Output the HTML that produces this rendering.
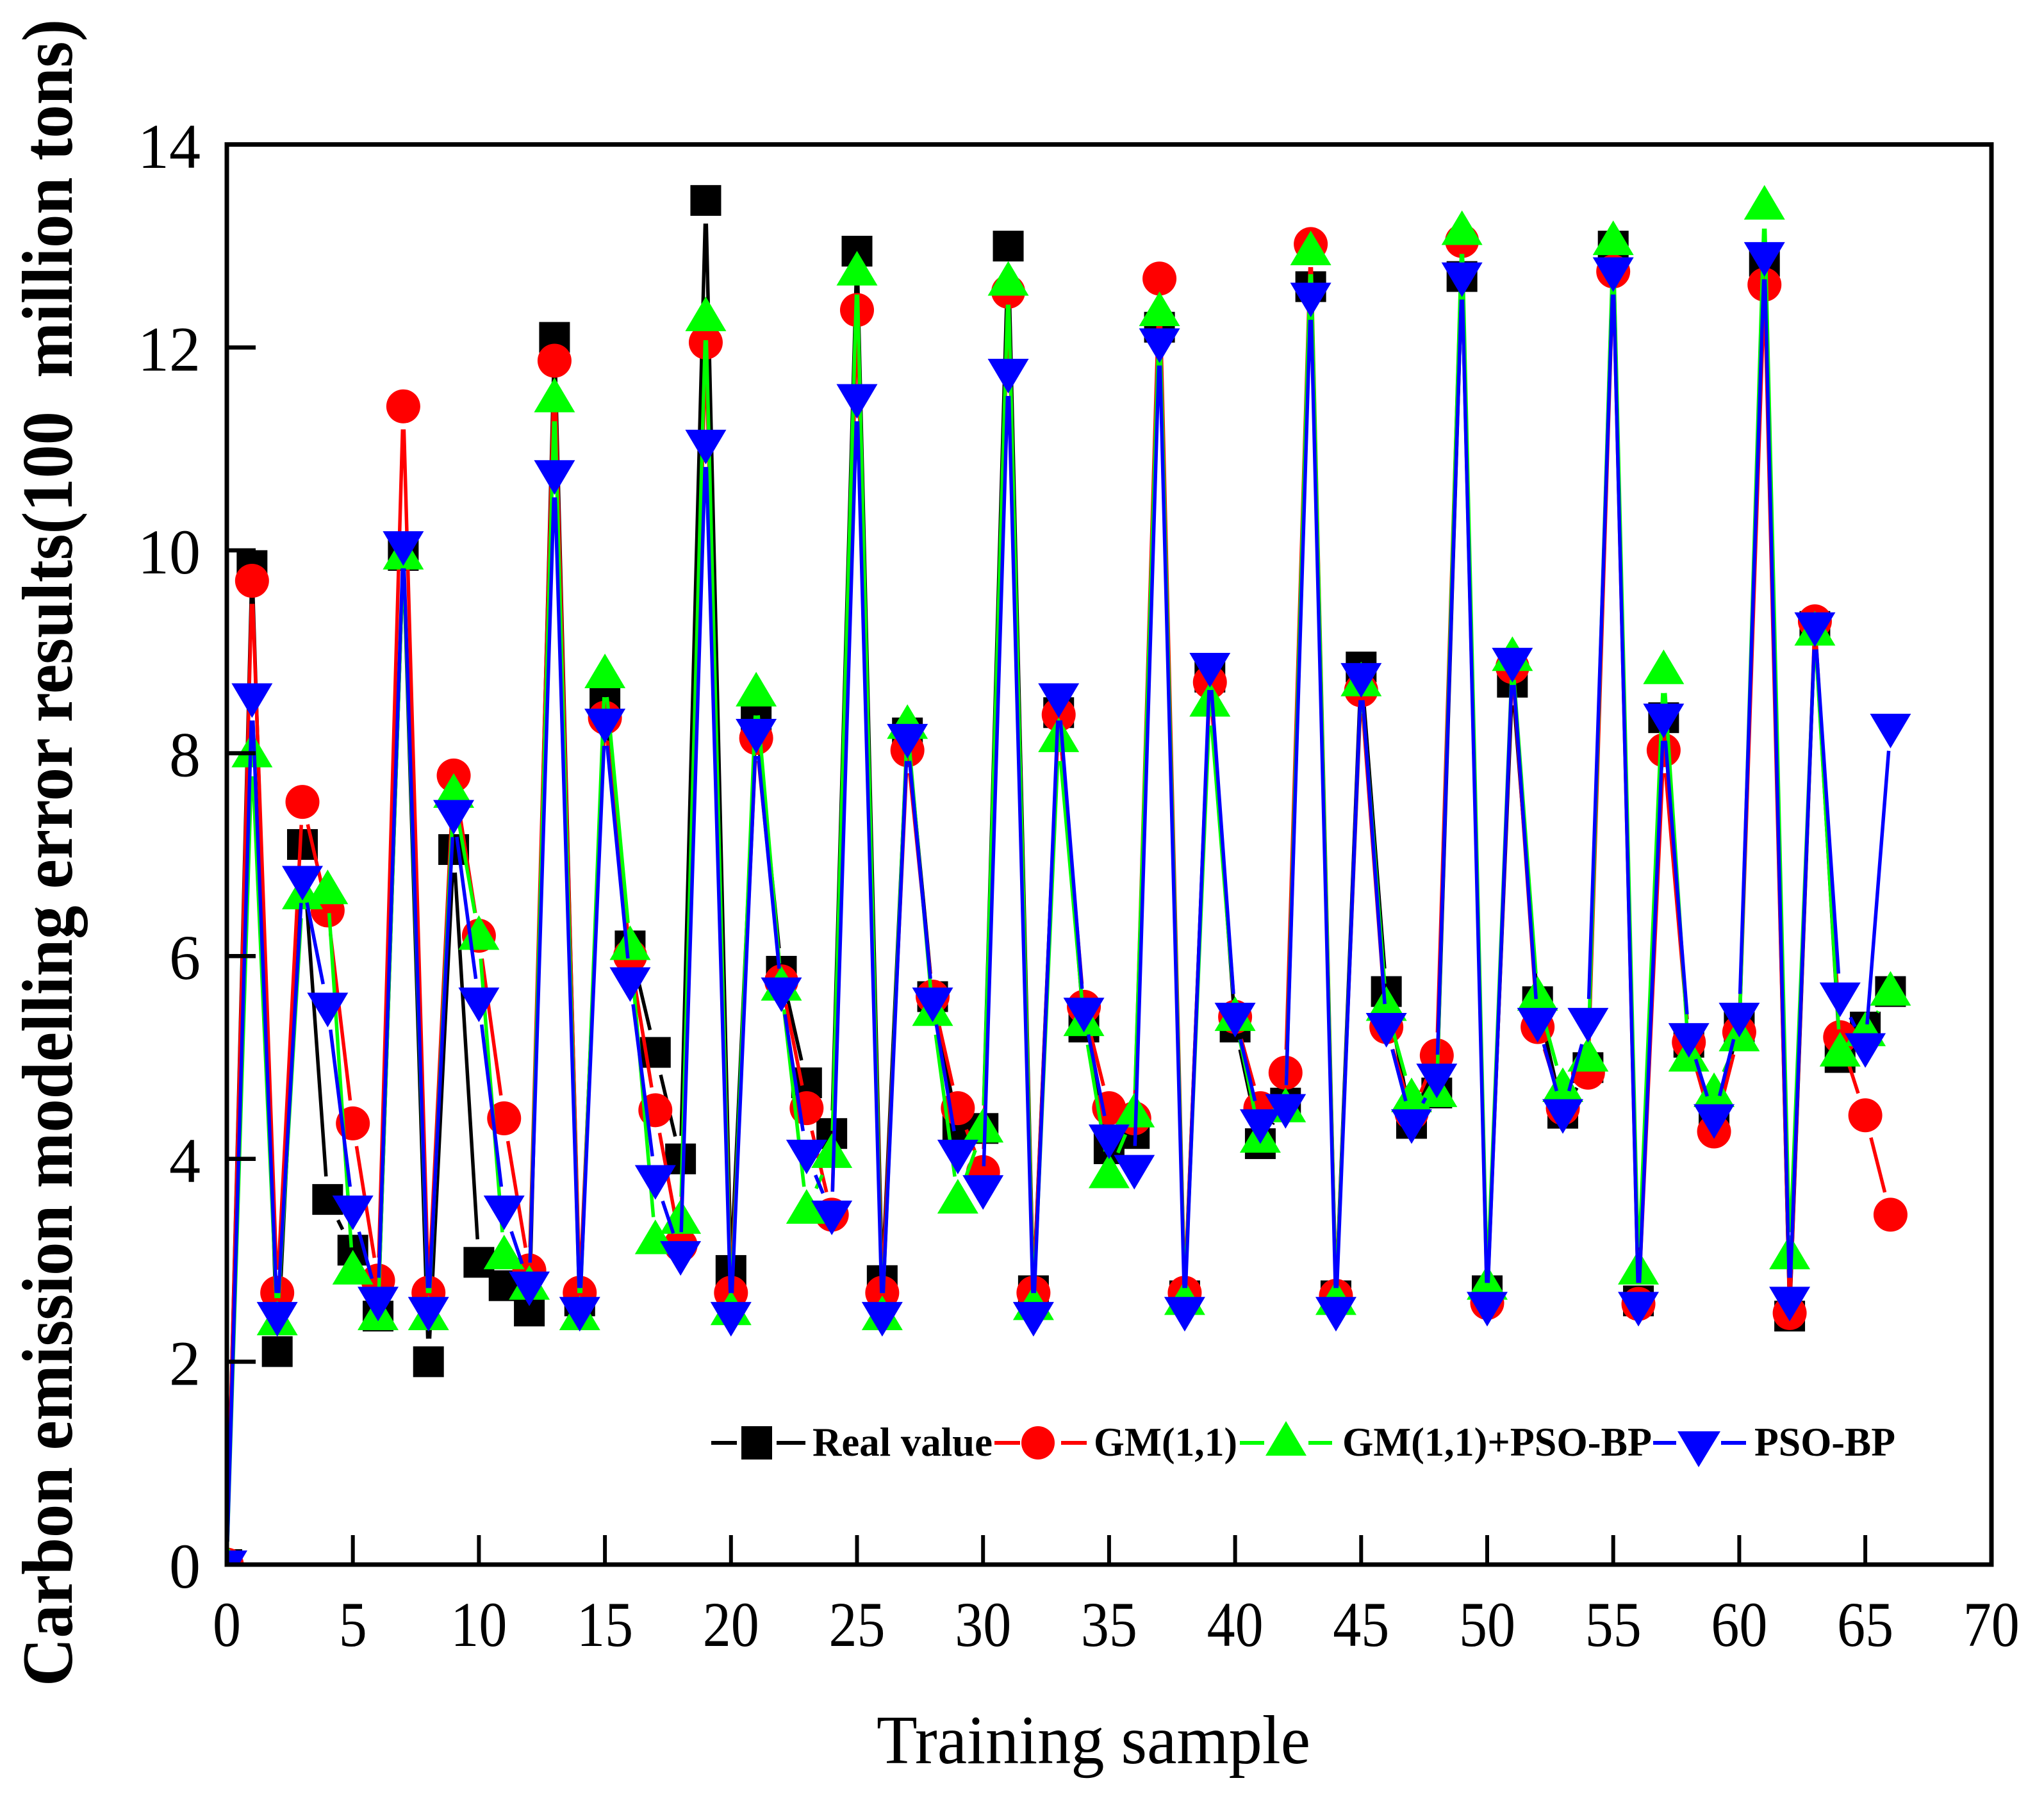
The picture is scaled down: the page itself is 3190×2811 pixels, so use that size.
<!DOCTYPE html>
<html lang="en">
<head>
<meta charset="utf-8">
<title>Carbon emission modelling error results</title>
<style>
html,body{margin:0;padding:0;background:#fff;}
svg{display:block;}
text{font-family:"Liberation Serif",serif;fill:#000;}
</style>
</head>
<body>
<svg id="chart" xmlns="http://www.w3.org/2000/svg" width="3190" height="2811" viewBox="0 0 3190 2811">
  <rect x="0" y="0" width="3190" height="2811" fill="#fff"/>
  <defs>
    <clipPath id="plot-clip"><rect x="354" y="225" width="2754" height="2217"/></clipPath>
  </defs>
  <g id="series-layer" clip-path="url(#plot-clip)"></g>
  <rect x="354" y="225.5" width="2754" height="2216.5" fill="none" stroke="#000" stroke-width="7"/>
  <g id="axis-layer"></g>
  <text transform="translate(112,2632) rotate(-90)" font-size="112" font-weight="bold" textLength="2602" lengthAdjust="spacingAndGlyphs">Carbon emission modelling error results(100&#160;&#160;million tons)</text>
  <text x="1368" y="2752" font-size="108" textLength="677" lengthAdjust="spacingAndGlyphs">Training sample</text>
  <g>
    <g>
      <path d="M1110 2252H1150M1212 2252H1257" stroke="#000" stroke-width="6" fill="none"/>
      <rect x="1157" y="2226" width="48" height="52" fill="#000"/>
      <text x="1268" y="2272" font-size="64" font-weight="bold" textLength="281" lengthAdjust="spacingAndGlyphs">Real value</text>
    </g>
    <g>
      <path d="M1552 2252H1592M1656 2252H1696" stroke="#f00" stroke-width="6" fill="none"/>
      <ellipse cx="1620" cy="2252" rx="26" ry="26" fill="#f00"/>
      <text x="1707" y="2272" font-size="64" font-weight="bold" textLength="224" lengthAdjust="spacingAndGlyphs">GM(1,1)</text>
    </g>
    <g>
      <path d="M1935 2252H1973M2042 2252H2079" stroke="#0f0" stroke-width="6" fill="none"/>
      <polygon points="2007,2218 2039,2272 1975,2272" fill="#0f0"/>
      <text x="2095" y="2272" font-size="64" font-weight="bold" textLength="483" lengthAdjust="spacingAndGlyphs">GM(1,1)+PSO-BP</text>
    </g>
    <g>
      <path d="M2580 2252H2616M2686 2252H2725" stroke="#00f" stroke-width="6" fill="none"/>
      <polygon points="2618,2234 2685,2234 2651,2290" fill="#00f"/>
      <text x="2738" y="2272" font-size="64" font-weight="bold" textLength="220" lengthAdjust="spacingAndGlyphs">PSO-BP</text>
    </g>
  </g>
</svg>
<script>
const xTickLabels = ["0","5","10","15","20","25","30","35","40","45","50","55","60","65","70"];
const yTickLabels = ["0","2","4","6","8","10","12","14"];
const realValue = [0,9.85,2.1,7.1,3.6,3.1,2.45,9.95,2.0,7.05,2.98,2.75,2.5,12.1,2.6,8.5,6.1,5.05,4.0,13.45,2.9,8.35,5.85,4.75,4.25,12.95,2.8,8.2,5.6,4.3,4.3,13.0,2.7,8.4,5.3,4.1,4.25,12.2,2.65,8.75,5.3,4.15,4.55,12.6,2.65,8.85,5.65,4.35,4.65,12.7,2.7,8.7,5.55,4.45,4.9,13.0,2.6,8.35,5.15,4.4,5.3,12.85,2.45,9.25,5.0,5.3,5.65];
const gm11 = [0,9.7,2.68,7.52,6.45,4.35,2.8,11.42,2.68,7.78,6.2,4.4,2.9,11.87,2.68,8.35,6.0,4.48,3.15,12.05,2.68,8.15,5.75,4.5,3.45,12.37,2.68,8.03,5.6,4.5,3.87,12.55,2.68,8.38,5.5,4.5,4.4,12.68,2.68,8.7,5.4,4.5,4.85,13.02,2.65,8.62,5.3,4.45,5.02,13.05,2.58,8.85,5.3,4.5,4.85,12.75,2.57,8.03,5.15,4.27,5.25,12.62,2.48,9.3,5.2,4.43,3.45];
const gm11PsoBp = [0,8.0,2.4,6.6,6.65,2.9,2.45,9.95,2.45,7.6,6.2,3.05,2.75,11.5,2.45,8.78,6.1,3.2,3.4,12.3,2.5,8.6,5.7,3.5,4.05,12.75,2.45,8.28,5.45,3.6,4.3,12.65,2.55,8.15,5.35,3.85,4.45,12.35,2.6,8.5,5.4,4.2,4.5,12.95,2.6,8.7,5.5,4.6,4.65,13.15,2.75,8.95,5.6,4.7,5.0,13.05,2.9,8.82,5.0,4.65,5.2,13.4,3.05,9.2,5.05,5.25,5.65];
const psoBp = [0,8.55,2.45,6.75,5.5,3.5,2.6,10.05,2.5,7.4,5.55,3.5,2.75,10.75,2.5,8.3,5.75,3.8,3.05,11.05,2.45,8.2,5.65,4.05,3.45,11.5,2.45,8.15,5.55,4.05,3.7,11.75,2.45,8.55,5.45,4.2,3.9,12.05,2.5,8.85,5.4,4.35,4.5,12.5,2.5,8.75,5.3,4.35,4.8,12.7,2.55,8.9,5.35,4.45,5.35,12.75,2.55,8.35,5.2,4.4,5.4,12.9,2.6,9.25,5.6,5.1,8.25];

const NS = 'http://www.w3.org/2000/svg';
const xAt = function (v) { return 354 + v * 39.34; };
const yAt = function (v) { return 2442 - v * 158.3; };
const GAP = 36;

function drawMarker(group, shape, px, py, color) {
  let m;
  if (shape === 'square') {
    m = document.createElementNS(NS, 'rect');
    m.setAttribute('x', px - 24);
    m.setAttribute('y', py - 24);
    m.setAttribute('width', 48);
    m.setAttribute('height', 48);
  } else if (shape === 'circle') {
    m = document.createElementNS(NS, 'circle');
    m.setAttribute('cx', px);
    m.setAttribute('cy', py);
    m.setAttribute('r', 26.5);
  } else if (shape === 'up') {
    m = document.createElementNS(NS, 'polygon');
    m.setAttribute('points', px + ',' + (py - 32) + ' ' + (px + 32) + ',' + (py + 22) + ' ' + (px - 32) + ',' + (py + 22));
  } else {
    m = document.createElementNS(NS, 'polygon');
    m.setAttribute('points', (px - 32) + ',' + (py - 22) + ' ' + (px + 32) + ',' + (py - 22) + ' ' + px + ',' + (py + 32));
  }
  m.setAttribute('fill', color);
  
  
  group.appendChild(m);
}

function drawSeries(name, values, color, shape) {
  const g = document.createElementNS(NS, 'g');
  
  
  let d = '';
  for (let i = 0; i < values.length - 1; i++) {
    const x1 = xAt(i), y1 = yAt(values[i]), x2 = xAt(i + 1), y2 = yAt(values[i + 1]);
    const len = Math.hypot(x2 - x1, y2 - y1);
    if (len <= GAP * 2) continue;
    const ux = (x2 - x1) / len, uy = (y2 - y1) / len;
    d += 'M' + (x1 + ux * GAP).toFixed(1) + ' ' + (y1 + uy * GAP).toFixed(1) +
         'L' + (x2 - ux * GAP).toFixed(1) + ' ' + (y2 - uy * GAP).toFixed(1);
  }
  const line = document.createElementNS(NS, 'path');
  line.setAttribute('d', d);
  line.setAttribute('fill', 'none');
  line.setAttribute('stroke', color);
  line.setAttribute('stroke-width', 5.5);
  
  
  g.appendChild(line);
  values.forEach(function (v, i) {
    drawMarker(g, shape, xAt(i), yAt(v), color);
  });
  document.getElementById('series-layer').appendChild(g);
}

drawSeries('series-real-value', realValue, '#000', 'square');
drawSeries('series-gm11', gm11, '#f00', 'circle');
drawSeries('series-gm11-pso-bp', gm11PsoBp, '#0f0', 'up');
drawSeries('series-pso-bp', psoBp, '#00f', 'down');

const axisLayer = document.getElementById('axis-layer');
xTickLabels.forEach(function (label) {
  const v = Number(label);
  const px = xAt(v);
  const tick = document.createElementNS(NS, 'line');
  tick.setAttribute('x1', px);
  tick.setAttribute('x2', px);
  tick.setAttribute('y1', 2442);
  tick.setAttribute('y2', 2396);
  tick.setAttribute('stroke', '#000');
  tick.setAttribute('stroke-width', 6);
  
  
  axisLayer.appendChild(tick);
  const t = document.createElementNS(NS, 'text');
  t.setAttribute('x', px);
  t.setAttribute('y', 2569);
  t.setAttribute('font-size', 100);
  t.setAttribute('text-anchor', 'middle');
  t.setAttribute('textLength', label.length * 44);
  t.setAttribute('lengthAdjust', 'spacingAndGlyphs');
  
  
  t.textContent = label;
  axisLayer.appendChild(t);
});
yTickLabels.forEach(function (label) {
  const v = Number(label);
  const py = yAt(v);
  const tick = document.createElementNS(NS, 'line');
  tick.setAttribute('x1', 354);
  tick.setAttribute('x2', 399);
  tick.setAttribute('y1', py);
  tick.setAttribute('y2', py);
  tick.setAttribute('stroke', '#000');
  tick.setAttribute('stroke-width', 6.5);
  
  
  axisLayer.appendChild(tick);
  const t = document.createElementNS(NS, 'text');
  t.setAttribute('x', 313);
  t.setAttribute('y', py + 36);
  t.setAttribute('font-size', 100);
  t.setAttribute('text-anchor', 'end');
  t.setAttribute('textLength', label.length * 49);
  t.setAttribute('lengthAdjust', 'spacingAndGlyphs');
  
  
  t.textContent = label;
  axisLayer.appendChild(t);
});
</script>
</body>
</html>
